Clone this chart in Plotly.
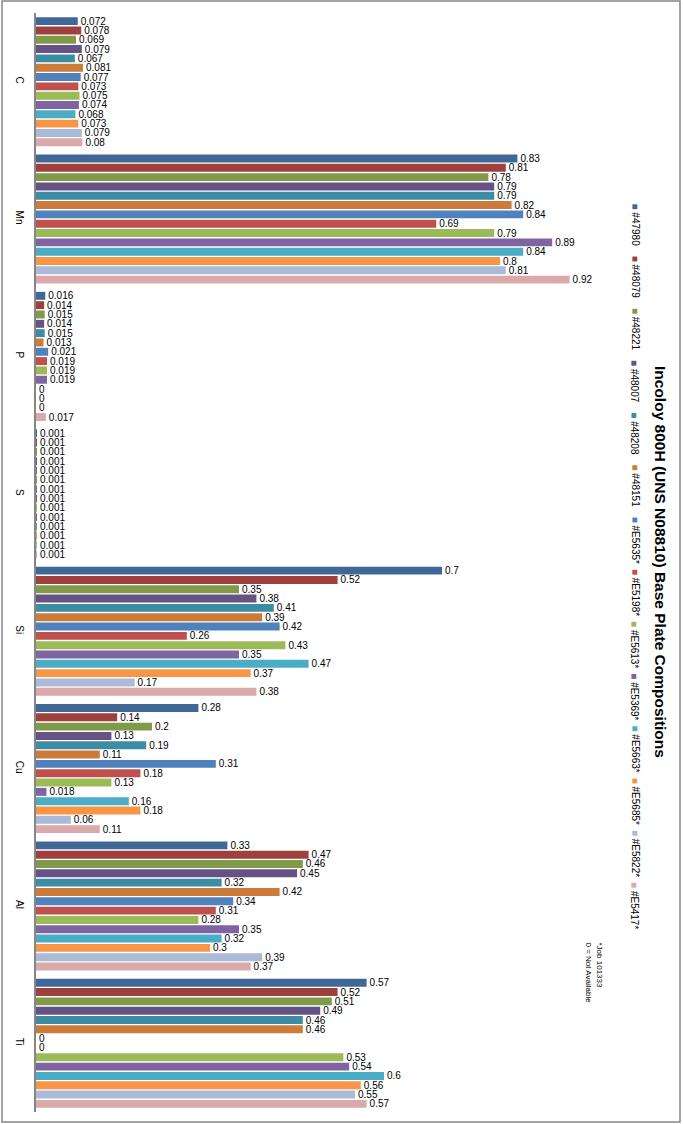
import plotly.graph_objects as go

elements = ["C", "Mn", "P", "S", "Si", "Cu", "Al", "Ti"]
series_names = ["#47980", "#48079", "#48221", "#48007", "#48208", "#48151",
                "#E5635*", "#E5198*", "#E5613*", "#E5369*", "#E5663*",
                "#E5685*", "#E5822*", "#E5417*"]
# values per element, in series order
C_vals  = [0.072, 0.078, 0.069, 0.079, 0.067, 0.081, 0.077, 0.073, 0.075, 0.074, 0.068, 0.073, 0.079, 0.08]
Mn_vals = [0.83, 0.81, 0.78, 0.79, 0.79, 0.82, 0.84, 0.69, 0.79, 0.89, 0.84, 0.8, 0.81, 0.92]
P_vals  = [0.016, 0.014, 0.015, 0.014, 0.015, 0.013, 0.021, 0.019, 0.019, 0.019, 0.0, 0.0, 0.0, 0.017]
S_vals  = [0.001] * 14
Si_vals = [0.7, 0.52, 0.35, 0.38, 0.41, 0.39, 0.42, 0.26, 0.43, 0.35, 0.47, 0.37, 0.17, 0.38]
Cu_vals = [0.28, 0.14, 0.2, 0.13, 0.19, 0.11, 0.31, 0.18, 0.13, 0.018, 0.16, 0.18, 0.06, 0.11]
Al_vals = [0.33, 0.47, 0.46, 0.45, 0.32, 0.42, 0.34, 0.31, 0.28, 0.35, 0.32, 0.3, 0.39, 0.37]
Ti_vals = [0.57, 0.52, 0.51, 0.49, 0.46, 0.46, 0.0, 0.0, 0.53, 0.54, 0.6, 0.56, 0.55, 0.57]

colors = ["#406897", "#9E413E", "#7F9B4A", "#665285", "#3C8DA3", "#CC7B38",
          "#4F81BD", "#C0504D", "#9BBB59", "#8064A2", "#4BACC6", "#F79646",
          "#AABAD7", "#D9AAA9"]

title_text = "Incoloy 800H (UNS N08810) Base Plate Compositions"
note_text = "*Job 101333<br>0 = Not Available"

table = [C_vals, Mn_vals, P_vals, S_vals, Si_vals, Cu_vals, Al_vals, Ti_vals]

FONT = "Liberation Sans, Arial, sans-serif"

fig = go.Figure()
for i, name in enumerate(series_names):
    vals = [row[i] for row in table]
    fig.add_trace(go.Bar(
        y=elements, x=vals, orientation="h", name=name,
        marker=dict(color=colors[i], line=dict(width=0)),
        text=[f"{v:g}" for v in vals], textposition="outside",
        constraintext="none",
        textfont=dict(size=10, color="#000000", family=FONT),
        cliponaxis=False,
    ))

# plot area pixel geometry helpers
W, H = 683, 1124
L, R, T, B = 36, 67, 13, 12
pw, ph = W - L - R, H - T - B

def px_x(x):
    return (x - L) / pw

def px_y(y):
    return (H - B - y) / ph

annotations = []
# legend as rotated text
for i, name in enumerate(series_names):
    annotations.append(dict(
        xref="paper", yref="paper", x=px_x(635), y=px_y(202 + i * 52.2),
        xanchor="center", yanchor="top", showarrow=False, textangle=90,
        text=f'<span style="color:{colors[i]}">■</span> {name}',
        font=dict(size=10, color="#000000", family=FONT),
    ))
annotations.append(dict(
    xref="paper", yref="paper", x=px_x(661), y=px_y(562),
    xanchor="center", yanchor="middle", showarrow=False, textangle=90,
    text=f"<b>{title_text}</b>", font=dict(size=15.5, color="#000000", family=FONT),
))
annotations.append(dict(
    xref="paper", yref="paper", x=px_x(594), y=px_y(940),
    xanchor="center", yanchor="top", showarrow=False, textangle=90, align="left",
    text=note_text, font=dict(size=8, color="#000000", family=FONT),
))

fig.update_layout(
    width=W, height=H,
    margin=dict(l=L, r=R, t=T, b=B, pad=0),
    paper_bgcolor="white", plot_bgcolor="white",
    barmode="group", bargap=0.05, bargroupgap=0.15,
    showlegend=False,
    annotations=annotations,
    shapes=[dict(type="rect", xref="paper", yref="paper",
                 x0=px_x(2), x1=px_x(680), y0=px_y(1122), y1=px_y(1),
                 line=dict(color="#868686", width=1.5), fillcolor="rgba(0,0,0,0)",
                 layer="below")],
    xaxis=dict(range=[0, 1], visible=False, showgrid=False, zeroline=False),
    yaxis=dict(autorange="reversed", showline=True, linecolor="#868686", linewidth=1.5,
               ticks="", tickangle=90, ticklabelstandoff=6,
               tickfont=dict(size=10, color="#000000", family=FONT),
               showgrid=False, zeroline=False),
)

fig.write_html("out.html", config={"displayModeBar": False},
               post_script="document.body.style.margin='0';")
